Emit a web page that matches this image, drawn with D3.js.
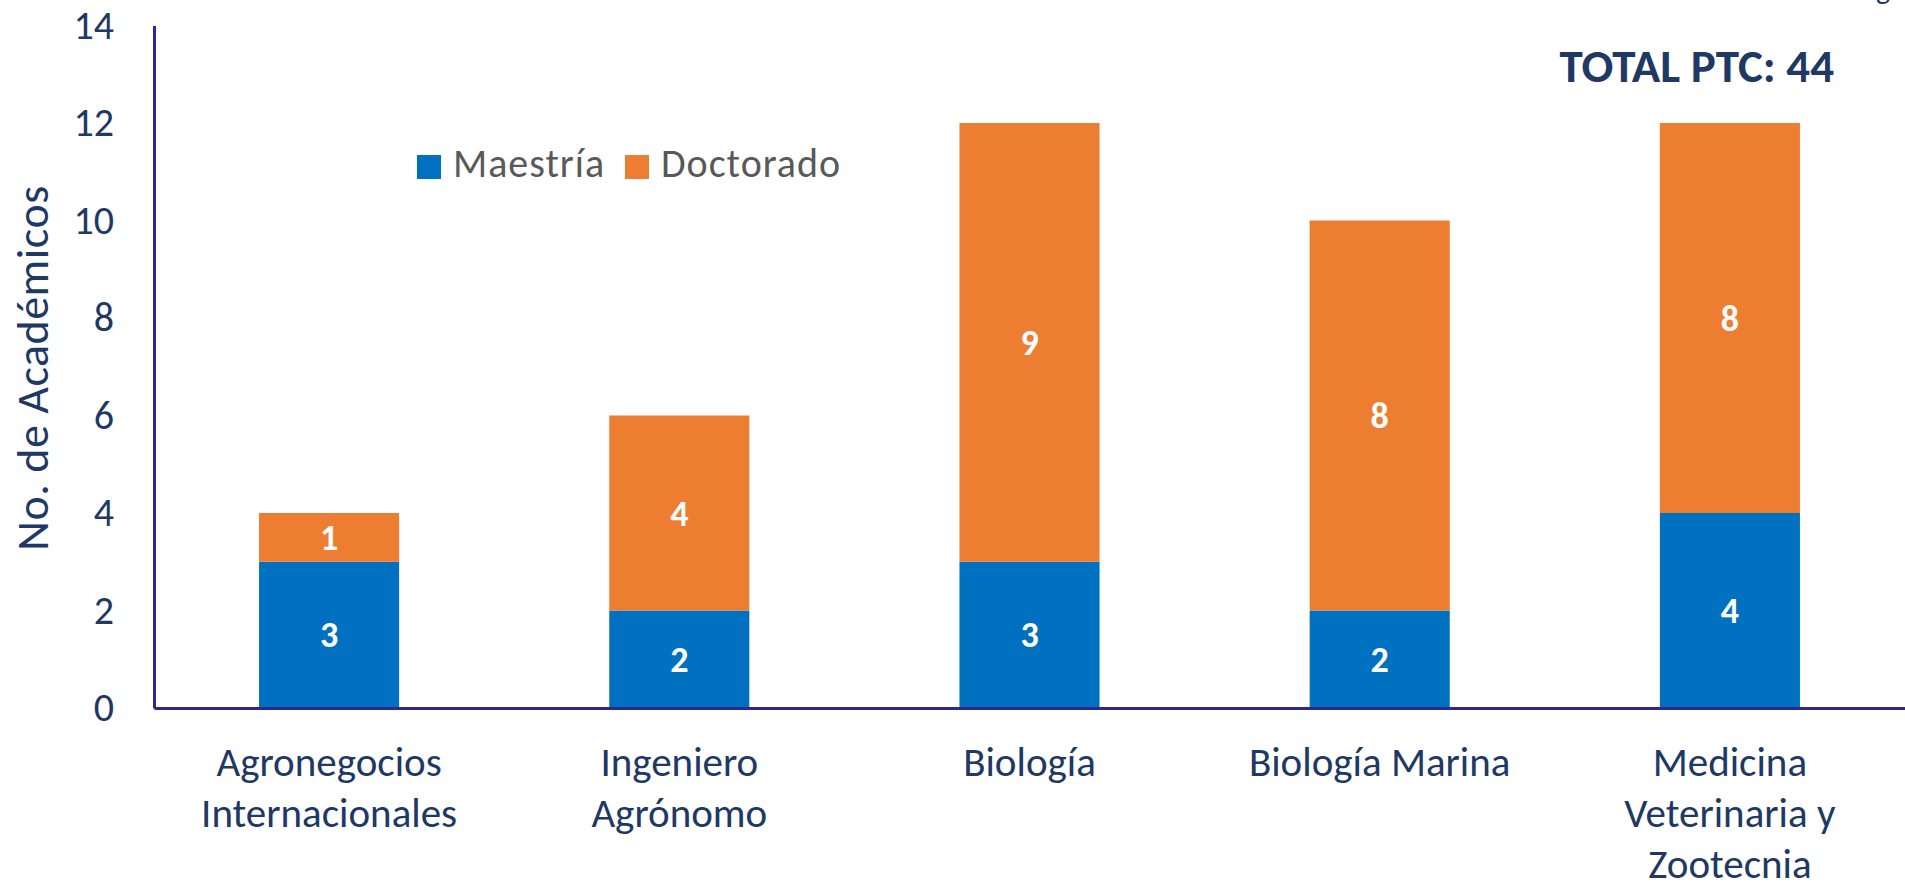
<!DOCTYPE html>
<html>
<head>
<meta charset="utf-8">
<script src="https://cdn.jsdelivr.net/npm/d3@7"></script>
<style>
  body { margin: 0; background: #fff; }
  text { font-family: Calibri, Carlito, Lato, sans-serif; }
</style>
</head>
<body>
<svg></svg>
<script>
let categories = ['Agronegocios Internacionales', 'Ingeniero Agrónomo', 'Biología', 'Biología Marina', 'Medicina Veterinaria y Zootecnia']
let tickLines = [['Agronegocios', 'Internacionales'], ['Ingeniero', 'Agrónomo'], ['Biología'], ['Biología Marina'], ['Medicina', 'Veterinaria y', 'Zootecnia']]
let maestria = [3, 2, 3, 2, 4]
let doctorado = [1, 4, 9, 8, 8]
let seriesNames = ['Maestría', 'Doctorado']
let yTicks = [0, 2, 4, 6, 8, 10, 12, 14]

let width = 1905
let height = 885
let colors = ['#0070C0', '#ED7D31']
let axisColor = '#2E2790'
let textColor = '#203864'

let svg = d3.select('svg')
  .attr('width', width)
  .attr('height', height)

let xScale = d3.scaleBand()
  .domain(categories)
  .range([154, 1905])
  .paddingInner(0.6)
  .paddingOuter(0.3)

let yScale = d3.scaleLinear()
  .domain([0, 14])
  .range([708, 25.5])

// stacked data
let rows = categories.map((c, i) => ({cat: c, 'Maestría': maestria[i], 'Doctorado': doctorado[i]}))
let stacked = d3.stack().keys(seriesNames)(rows)

svg.append('g')
  .selectAll('g')
  .data(stacked)
  .enter()
  .append('g')
  .attr('fill', (d, i) => colors[i])
  .selectAll('rect')
  .data(d => d)
  .enter()
  .append('rect')
  .attr('x', d => xScale(d.data.cat))
  .attr('y', d => yScale(d[1]))
  .attr('width', xScale.bandwidth())
  .attr('height', d => yScale(d[0]) - yScale(d[1]))

// value labels
stacked.forEach(s => {
  svg.append('g')
    .selectAll('text')
    .data(s)
    .enter()
    .append('text')
    .attr('x', d => xScale(d.data.cat) + xScale.bandwidth() / 2)
    .attr('y', d => yScale((d[0] + d[1]) / 2))
    .attr('dy', '0.35em')
    .attr('text-anchor', 'middle')
    .attr('fill', '#fff')
    .attr('font-weight', 'bold')
    .attr('font-size', 36)
    .text(d => d[1] - d[0])
})

// y axis
let yAxis = d3.axisLeft(yScale)
  .tickValues(yTicks)
  .tickSize(0)
  .tickPadding(40)

let yG = svg.append('g')
  .attr('transform', 'translate(154,0)')
  .call(yAxis)
yG.select('.domain').attr('stroke', axisColor).attr('stroke-width', 3)
yG.selectAll('text').attr('font-size', 40).attr('fill', textColor).attr('font-family', 'Calibri, Carlito, Lato, sans-serif')

// x axis
let xAxis = d3.axisBottom(xScale).tickSize(0).tickFormat('')
let xG = svg.append('g')
  .attr('transform', 'translate(0,708)')
  .call(xAxis)
xG.select('.domain').attr('stroke', axisColor).attr('stroke-width', 3)

svg.append('g')
  .selectAll('text')
  .data(categories)
  .enter()
  .append('text')
  .attr('text-anchor', 'middle')
  .attr('font-size', 41)
  .attr('fill', textColor)
  .each(function(d, i) {
    let t = d3.select(this)
    tickLines[i].forEach((line, j) => {
      t.append('tspan')
        .attr('x', xScale(d) + xScale.bandwidth() / 2)
        .attr('y', 776 + j * 51)
        .text(line)
    })
  })

// y title
svg.append('text')
  .attr('transform', 'translate(48,368) rotate(-90)')
  .attr('text-anchor', 'middle')
  .attr('font-size', 46)
  .attr('fill', textColor)
  .attr('letter-spacing', 0.5)
  .text('No. de Académicos')

// legend
let legend = svg.append('g')
let legendX = [417, 625]
seriesNames.forEach((name, i) => {
  legend.append('rect')
    .attr('x', legendX[i])
    .attr('y', 155)
    .attr('width', 24)
    .attr('height', 24)
    .attr('fill', colors[i])
  legend.append('text')
    .attr('x', legendX[i] + 36)
    .attr('y', 177)
    .attr('font-size', 40)
    .attr('letter-spacing', 1)
    .attr('fill', '#595959')
    .text(name)
})

// total
svg.append('text')
  .attr('x', 1834)
  .attr('y', 82)
  .attr('text-anchor', 'end')
  .attr('font-size', 47)
  .attr('font-weight', 'bold')
  .attr('fill', textColor)
  .text('TOTAL PTC: ' + d3.sum(maestria.concat(doctorado)))

// clipped remnant at top right
svg.append('text')
  .attr('x', 1883)
  .attr('y', -1)
  .attr('text-anchor', 'middle')
  .attr('font-size', 30)
  .attr('fill', textColor)
  .text('g')
</script>
</body>
</html>
